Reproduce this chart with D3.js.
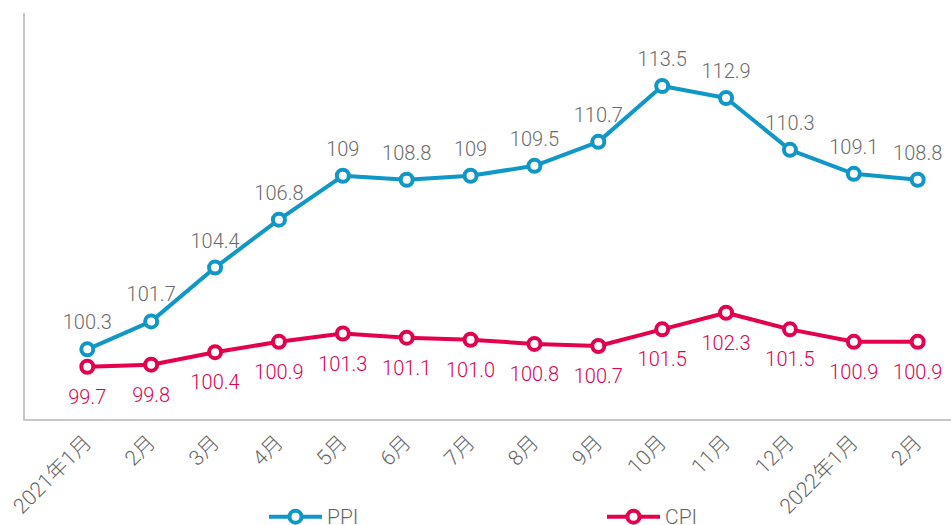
<!DOCTYPE html>
<html><head><meta charset="utf-8">
<script src="https://cdn.jsdelivr.net/npm/d3@7"></script>
<style>
html,body{margin:0;padding:0;background:#fff;}
svg{display:block;font-family:"Helvetica Neue",Roboto,"Liberation Sans","Noto Sans CJK SC",sans-serif;}
</style></head><body>
<svg id="chart" width="951" height="525"></svg>
<script>
const categories = ["2021年1月","2月","3月","4月","5月","6月","7月","8月","9月","10月","11月","12月","2022年1月","2月"];
const ppiValues = [100.3,101.7,104.4,106.8,109,108.8,109,109.5,110.7,113.5,112.9,110.3,109.1,108.8];
const cpiValues = [99.7,99.8,100.4,100.9,101.3,101.1,101.0,100.8,100.7,101.5,102.3,101.5,100.9,100.9];
const seriesNames = ["PPI","CPI"];

const W = 951, H = 525;
const axisX = 24, axisTop = 13, axisY = 420;
const ppiColor = "#0f97c7", cpiColor = "#e3004f";
const ppiLabelColor = "#6b6b6b", cpiLabelColor = "#e2004f", axisLabelColor = "#666";

const svg = d3.select("#chart");

const x = d3.scalePoint().domain(d3.range(categories.length)).range([87.3, 917.7]);
const yPPI = d3.scaleLinear().domain([100, 115]).range([355.3, 56.1]);
const yCPI = d3.scaleLinear().domain([99, 103]).range([381.3, 298.2]);

// axes lines
svg.append("line").attr("x1", axisX).attr("x2", axisX).attr("y1", axisTop).attr("y2", axisY)
  .attr("stroke", "#c8c8c8").attr("stroke-width", 2);
svg.append("line").attr("x1", axisX - 1).attr("x2", W).attr("y1", axisY).attr("y2", axisY)
  .attr("stroke", "#c8c8c8").attr("stroke-width", 2);

// x axis labels
const xAxis = svg.append("g").attr("transform", `translate(0,${axisY})`)
  .call(d3.axisBottom(x).tickSize(0).tickFormat(i => categories[i]));
xAxis.select(".domain").remove();
xAxis.selectAll("text")
  .attr("x", 0).attr("y", 0).attr("dy", 0)
  .attr("transform", "translate(5,24) rotate(-45)")
  .attr("text-anchor", "end")
  .attr("fill", axisLabelColor)
  .style("font-size", "21px")
  .style("font-weight", 300)
  .style("font-family", "'Helvetica Neue',Roboto,'Liberation Sans','Noto Sans CJK SC',sans-serif");

function drawSeries(values, y, color, labelColor, labelDy, fmt) {
  const line = d3.line().x((d, i) => x(i)).y(d => y(d));
  svg.append("path").datum(values).attr("d", line)
    .attr("fill", "none").attr("stroke", color).attr("stroke-width", 4)
    .attr("stroke-linejoin", "round");
  svg.append("g").selectAll("circle").data(values).join("circle")
    .attr("cx", (d, i) => x(i)).attr("cy", d => y(d)).attr("r", 6)
    .attr("fill", "#fff").attr("stroke", color).attr("stroke-width", 4);
  svg.append("g").selectAll("text").data(values).join("text")
    .attr("x", (d, i) => x(i)).attr("y", d => y(d) + labelDy)
    .attr("text-anchor", "middle").attr("fill", labelColor)
    .style("font-size", "20px").style("font-weight", 300)
    .text(fmt);
}
drawSeries(ppiValues, yPPI, ppiColor, ppiLabelColor, -20, d => String(d));
drawSeries(cpiValues, yCPI, cpiColor, cpiLabelColor, 37, d => d.toFixed(1));

// legend
const legendItems = [
  {name: seriesNames[0], color: ppiColor, x: 269},
  {name: seriesNames[1], color: cpiColor, x: 607}
];
const lg = svg.append("g").selectAll("g").data(legendItems).join("g")
  .attr("transform", d => `translate(${d.x},516.7)`);
lg.append("line").attr("x1", 0).attr("x2", 53).attr("y1", 0).attr("y2", 0)
  .attr("stroke", d => d.color).attr("stroke-width", 4);
lg.append("circle").attr("cx", 26.5).attr("cy", 0).attr("r", 6)
  .attr("fill", "#fff").attr("stroke", d => d.color).attr("stroke-width", 4);
lg.append("text").attr("x", 58).attr("y", 7)
  .attr("fill", axisLabelColor).style("font-size", "21px").style("font-weight", 300)
  .text(d => d.name);
</script>
</body></html>
